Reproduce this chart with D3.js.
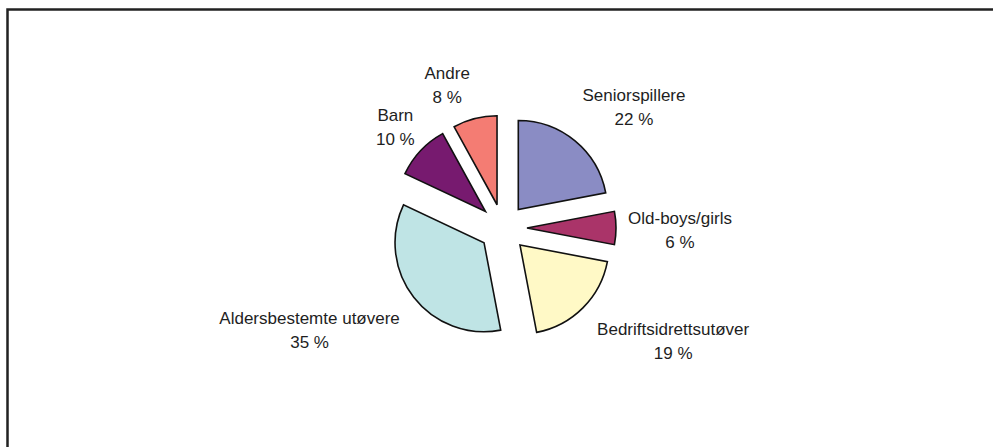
<!DOCTYPE html>
<html>
<head>
<meta charset="utf-8">
<script src="https://cdn.jsdelivr.net/npm/d3@7"></script>
<style>
  html, body { margin: 0; background: #fff; overflow: hidden; }
  svg { display: block; }
  text { font-family: "Liberation Sans", Arial, sans-serif; fill: #1e1e1e; }
</style>
</head>
<body>
<div id="viz"></div>
<script>
// data
var categories = ['Seniorspillere', 'Old-boys/girls', 'Bedriftsidrettsutøver',
                  'Aldersbestemte utøvere', 'Barn', 'Andre'];
var shares = [22, 6, 19, 35, 10, 8];
var colors = ['#8A8CC4', '#AA3469', '#FFF9C6', '#BFE4E5', '#771A6F', '#F47C73'];

// label nudges (px) relative to the label-ring centroid
var labelNudge = [[29, 2], [17, 2], [57, 0], [-67, 4], [9, 9], [-16, 12]];

var width = 993,
    height = 447,
    cx = 503,
    cy = 228,
    radius = 89,
    explode = 24,
    labelRadius = 160,
    lineGap = 24;

var svg = d3.select('#viz').append('svg')
    .attr('width', width + 200)
    .attr('height', height + 200);

// chart frame (cut off at right and bottom)
svg.append('path')
    .attr('d', 'M7.5,' + (height + 50) + 'V9.5H' + (width + 50))
    .attr('fill', 'none')
    .attr('stroke', '#222')
    .attr('stroke-width', 2.5);

var pie = d3.pie().sort(null).value(function (d) { return d; });
var slices = pie(shares);

var arc = d3.arc().innerRadius(0).outerRadius(radius);
var labelArc = d3.arc().innerRadius(labelRadius).outerRadius(labelRadius);

var g = svg.append('g')
    .attr('transform', 'translate(' + cx + ',' + cy + ')');

g.selectAll('path')
    .data(slices)
    .enter().append('path')
    .attr('d', arc)
    .attr('transform', function (d) {
        var a = (d.startAngle + d.endAngle) / 2;
        return 'translate(' + (Math.sin(a) * explode) + ',' + (-Math.cos(a) * explode) + ')';
    })
    .attr('fill', function (d, i) { return colors[i]; })
    .attr('stroke', '#111')
    .attr('stroke-width', 1.6)
    .attr('stroke-linejoin', 'miter');

var labels = g.selectAll('text.lbl')
    .data(slices)
    .enter().append('text')
    .attr('class', 'lbl')
    .attr('text-anchor', 'middle')
    .attr('font-size', 17)
    .attr('transform', function (d, i) {
        var c = labelArc.centroid(d);
        return 'translate(' + (c[0] + labelNudge[i][0]) + ',' + (c[1] + labelNudge[i][1]) + ')';
    });

labels.append('tspan')
    .attr('x', 0)
    .attr('y', -lineGap / 2 + 6)
    .text(function (d, i) { return categories[i]; });

labels.append('tspan')
    .attr('x', 0)
    .attr('y', lineGap / 2 + 6)
    .text(function (d) { return d.value + ' %'; });
</script>
</body>
</html>
